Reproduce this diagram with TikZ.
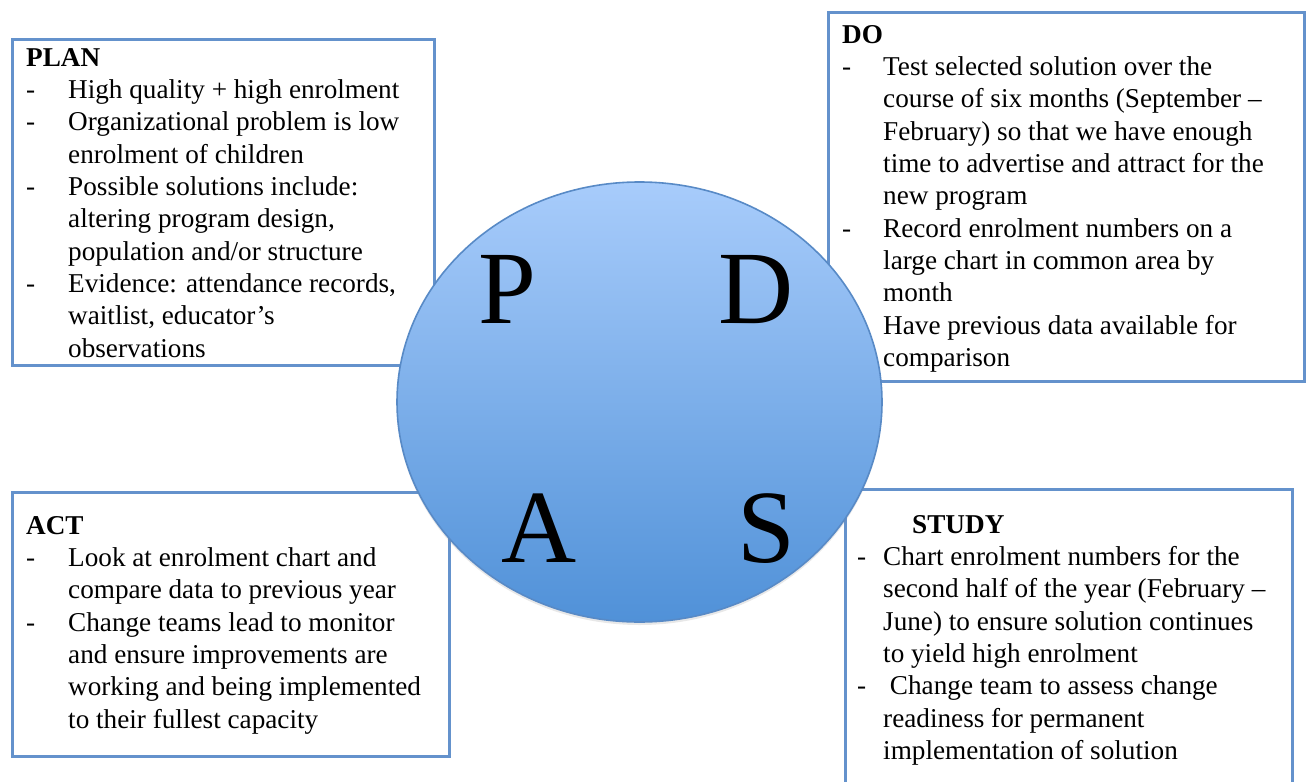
\documentclass[tikz,border=0pt]{standalone}
\usepackage{fontspec}
\setmainfont{Liberation Serif}
\usepackage{xcolor}
\usepackage{tikz}
\usetikzlibrary{positioning,shapes.geometric,shadows}
\definecolor{boxline}{RGB}{100,146,204}
\definecolor{cycletop}{RGB}{168,204,251}
\definecolor{cyclebottom}{RGB}{80,145,216}
\definecolor{cycleline}{RGB}{88,138,198}

\begin{document}
\begin{tikzpicture}[x=1pt,y=-1pt,
  stagebox/.style={draw=boxline,line width=2.6pt,fill=white,anchor=north west,inner sep=0pt},
  stagetext/.style={anchor=base west,inner sep=0pt,font=\fontsize{27.2}{32.35}\selectfont},
  bigletter/.style={anchor=base west,inner sep=0pt,font=\fontsize{104}{110}\selectfont}]
\clip (0,0) rectangle (1310,782);
  \node[stagebox,minimum width=422,minimum height=326] (planbox) at (11,38) {};
  \node[stagebox,minimum width=476,minimum height=369] (dobox) at (827,11) {};
  \node[stagebox,minimum width=437,minimum height=264] (actbox) at (11,491) {};
  \node[stagebox,minimum width=447,minimum height=330] (studybox) at (844,488) {};
    \node[ellipse,draw=cycleline,line width=1.6pt,top color=cycletop,bottom color=cyclebottom,
      drop shadow={opacity=0.18,shadow xshift=0pt,shadow yshift=-3pt},
      minimum width=485,minimum height=440,inner sep=0pt] (cycle) at (639.5,402) {};
  \node[stagetext] (plantext) at (26,66) {\begin{tabular}[t]{@{}p{42pt}@{}l@{}}
    \multicolumn{2}{@{}l@{}}{\textbf{PLAN}}\\
    - & High quality + high enrolment\\
    - & Organizational problem is low\\
      & enrolment of children\\
    - & Possible solutions include:\\
      & altering program design,\\
      & population and/or structure\\
    - & Evidence: attendance records,\\
      & waitlist, educator’s\\
      & observations
  \end{tabular}};
  \node[stagetext] (dotext) at (842,43) {\begin{tabular}[t]{@{}p{41pt}@{}l@{}}
    \multicolumn{2}{@{}l@{}}{\textbf{DO}}\\
    - & Test selected solution over the\\
      & course of six months (September --\\
      & February) so that we have enough\\
      & time to advertise and attract for the\\
      & new program\\
    - & Record enrolment numbers on a\\
      & large chart in common area by\\
      & month\\
      & Have previous data available for\\
      & comparison
  \end{tabular}};
  \node[stagetext] (acttext) at (26,534) {\begin{tabular}[t]{@{}p{42pt}@{}l@{}}
    \multicolumn{2}{@{}l@{}}{\textbf{ACT}}\\
    - & Look at enrolment chart and\\
      & compare data to previous year\\
    - & Change teams lead to monitor\\
      & and ensure improvements are\\
      & working and being implemented\\
      & to their fullest capacity
  \end{tabular}};
  \node[stagetext] (studytext) at (857,533) {\begin{tabular}[t]{@{}p{26pt}@{}l@{}}
    \multicolumn{2}{@{}l@{}}{\hspace{55pt}\textbf{STUDY}}\\
    - & Chart enrolment numbers for the\\
      & second half of the year (February --\\
      & June) to ensure solution continues\\
      & to yield high enrolment\\
    - & \ Change team to assess change\\
      & readiness for permanent\\
      & implementation of solution
  \end{tabular}};
    \node[bigletter] (pletter) at (478,323) {P};
    \node[bigletter] (dletter) at (718,323) {D};
    \node[bigletter] (aletter) at (501,562) {A};
    \node[bigletter] (sletter) at (737,562) {S};
\end{tikzpicture}
\end{document}
